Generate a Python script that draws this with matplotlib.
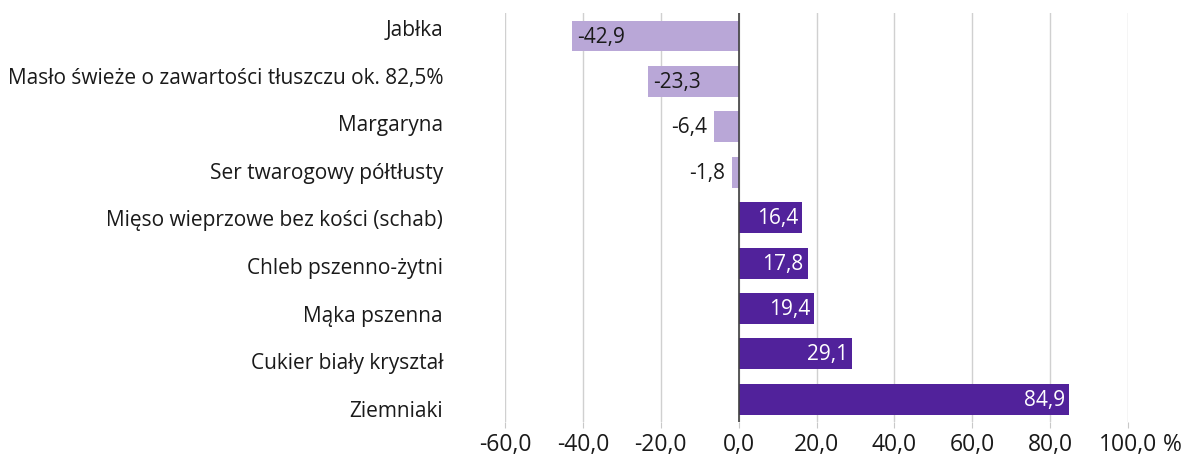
import matplotlib
matplotlib.use("Agg")
import matplotlib.pyplot as plt
from matplotlib.ticker import FixedLocator, FixedFormatter

plt.rcParams['font.family'] = ['Open Sans', 'DejaVu Sans']

categories = ["Jabłka", "Masło świeże o zawartości tłuszczu ok. 82,5%", "Margaryna",
              "Ser twarogowy półtłusty", "Mięso wieprzowe bez kości (schab)",
              "Chleb pszenno-żytni", "Mąka pszenna", "Cukier biały kryształ", "Ziemniaki"]
values = [-42.9, -23.3, -6.4, -1.8, 16.4, 17.8, 19.4, 29.1, 84.9]
xticks = [-60, -40, -20, 0, 20, 40, 60, 80, 100]
xtick_labels = ["-60,0", "-40,0", "-20,0", "0,0", "20,0", "40,0", "60,0", "80,0", "100,0"]
unit = "%"

neg_color = "#b9a7d7"
pos_color = "#51229b"

W, H = 1184, 464
fig = plt.figure(figsize=(W / 100, H / 100), dpi=100)
left, right = 505 / W, 1128 / W
ax = fig.add_axes([left, 1 - 423 / H, right - left, (423 - 14.3) / H])

y = list(range(len(categories)))
colors = [neg_color if v < 0 else pos_color for v in values]
ax.barh(y, values, height=0.68, color=colors, zorder=3)
ax.set_ylim(len(categories) - 0.5, -0.5)
ax.set_xlim(-60, 100)
ax.set_yticks([])

ax.xaxis.set_major_locator(FixedLocator(xticks))
ax.xaxis.set_major_formatter(FixedFormatter(xtick_labels))
ax.tick_params(axis='x', length=4, color="#c8c8c8", pad=3, labelsize=16.5, labelcolor="#1a1a1a")
ax.annotate(unit, xy=(xticks[-1], 0), xycoords=ax.get_xaxis_transform(),
            xytext=(25, -7), textcoords="offset points", ha="left", va="top",
            fontsize=16.5, color="#1a1a1a", annotation_clip=False)

ax.grid(axis='x', color="#d0d0d0", linewidth=1, zorder=0)
for s in ax.spines.values():
    s.set_visible(False)
ax.axvline(0, color="#404040", linewidth=1.2, zorder=4)

# category labels (slightly wider spacing than bars, as in reference)
ax_lab = fig.add_axes([left, 1 - 432.8 / H, right - left, (432.8 - 4.2) / H])
ax_lab.patch.set_visible(False)
for s in ax_lab.spines.values():
    s.set_visible(False)
ax_lab.set_ylim(len(categories) - 0.5, -0.5)
ax_lab.set_xticks([])
ax_lab.set_yticks(y)
ax_lab.set_yticklabels(categories, fontsize=15, color="#1a1a1a")
ax_lab.tick_params(axis='y', length=0, pad=44.6)

for yi, v in zip(y, values):
    txt = f"{v:.1f}".replace(".", ",")
    if v < 0:
        if abs(v) > 15:
            ax.annotate(txt, (v, yi), xytext=(4, 0), textcoords="offset points",
                        ha="left", va="center", fontsize=15, color="#1a1a1a", zorder=5)
        else:
            ax.annotate(txt, (v, yi), xytext=(-5, 0), textcoords="offset points",
                        ha="right", va="center", fontsize=15, color="#1a1a1a", zorder=5)
    else:
        ax.annotate(txt, (v, yi), xytext=(-3, 0), textcoords="offset points",
                    ha="right", va="center", fontsize=15, color="white", zorder=5)

fig.savefig("out.png", dpi=100)
